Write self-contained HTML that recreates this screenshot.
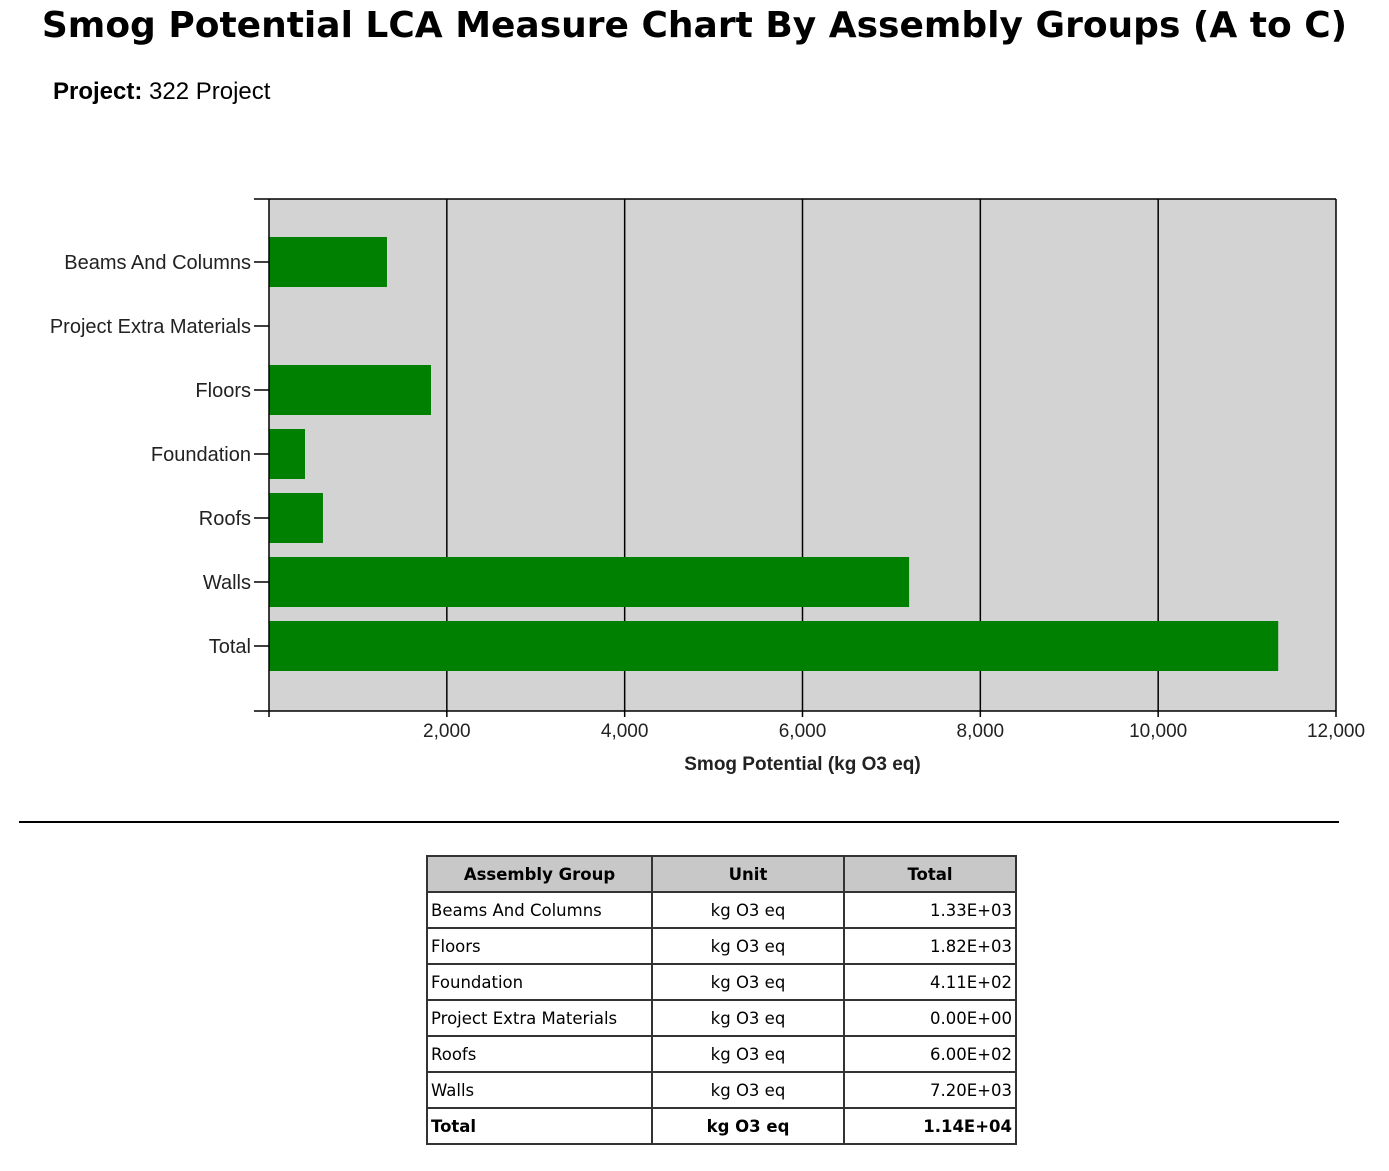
<!DOCTYPE html>
<html><head><meta charset="utf-8">
<style>
body{margin:0;width:1389px;height:1171px;background:#fff;position:relative;font-family:"Liberation Sans",sans-serif;overflow:hidden}
#title{position:absolute;left:0;width:1389px;top:5px;text-align:center;font:bold 36px "DejaVu Sans","Liberation Sans",sans-serif;color:#000;margin:0;letter-spacing:0px}
#proj{position:absolute;left:53px;top:78px;font-size:24px}
#hr{position:absolute;left:19px;top:821px;width:1320px;height:0;border-top:2px solid #000}
table{position:absolute;left:426px;top:855px;border-collapse:collapse;table-layout:fixed;width:589px;font:16.5px "DejaVu Sans",sans-serif}
td,th{border:2px solid #333;height:36px;padding:0 3px;box-sizing:border-box;white-space:nowrap}
th{background:#c8c8c8;font-weight:bold;text-align:center}
td.c{text-align:center}td.r{text-align:right}
tr.tot td{font-weight:bold}
</style></head><body>
<h1 id="title">Smog Potential LCA Measure Chart By Assembly Groups (A to C)</h1>
<div id="proj"><b>Project:</b> 322 Project</div>
<svg id="chart" width="1389" height="800" style="position:absolute;left:0;top:0"></svg>
<div id="hr"></div>
<table>
<colgroup><col style="width:225px"><col style="width:192px"><col style="width:172px"></colgroup>
<tr><th>Assembly Group</th><th>Unit</th><th>Total</th></tr>
<tr><td>Beams And Columns</td><td class="c">kg O3 eq</td><td class="r">1.33E+03</td></tr>
<tr><td>Floors</td><td class="c">kg O3 eq</td><td class="r">1.82E+03</td></tr>
<tr><td>Foundation</td><td class="c">kg O3 eq</td><td class="r">4.11E+02</td></tr>
<tr><td>Project Extra Materials</td><td class="c">kg O3 eq</td><td class="r">0.00E+00</td></tr>
<tr><td>Roofs</td><td class="c">kg O3 eq</td><td class="r">6.00E+02</td></tr>
<tr><td>Walls</td><td class="c">kg O3 eq</td><td class="r">7.20E+03</td></tr>
<tr class="tot"><td>Total</td><td class="c">kg O3 eq</td><td class="r">1.14E+04</td></tr>
</table>
<script>
const categories=["Beams And Columns","Project Extra Materials","Floors","Foundation","Roofs","Walls","Total"];
const values=[1327,0,1822,405,607,7199,11350];
const xTicks=[2000,4000,6000,8000,10000,12000];
const xTickLabels=["2,000","4,000","6,000","8,000","10,000","12,000"];
const NS="http://www.w3.org/2000/svg";
const svg=document.getElementById('chart');
const L=269,R=1336,T=199,B=711,XMAX=12000;
const band=(B-T)/(categories.length+1);
function x(v){return L+(R-L)*v/XMAX;}
function y(i){return T+band*(i+1)-1;}
function mk(t,a){const e=document.createElementNS(NS,t);for(const k in a)e.setAttribute(k,a[k]);svg.appendChild(e);return e;}
let e=mk('rect',{x:L,y:T,width:R-L,height:B-T,fill:'#d3d3d3'});


xTicks.forEach((t,i)=>{
  let g=mk('line',{x1:x(t),x2:x(t),y1:T,y2:B+6,stroke:'#000','stroke-width':1.5});
  
  
  let tx=mk('text',{x:x(t),y:B+26,'text-anchor':'middle','font-size':19,fill:'#222'});
  tx.textContent=xTickLabels[i];
  
  
});
categories.forEach((c,i)=>{
  let b=mk('rect',{x:L,y:y(i)-25,width:x(values[i])-L,height:50,fill:'#008000'});
  
  
  mk('line',{x1:L-15,x2:L,y1:y(i),y2:y(i),stroke:'#000','stroke-width':1.5});
  let tx=mk('text',{x:L-18,y:y(i)+7,'text-anchor':'end','font-size':20,fill:'#222'});
  tx.textContent=c;
  
  
});
mk('line',{x1:L-15,x2:R,y1:T,y2:T,stroke:'#000','stroke-width':1.5});
mk('line',{x1:L-15,x2:R,y1:B,y2:B,stroke:'#000','stroke-width':1.5});
mk('line',{x1:L,x2:L,y1:T,y2:B+6,stroke:'#000','stroke-width':1.5});
let at=mk('text',{x:(L+R)/2,y:770,'text-anchor':'middle','font-size':19,'font-weight':'bold',fill:'#222'});
at.textContent='Smog Potential (kg O3 eq)';


</script>
</body></html>
